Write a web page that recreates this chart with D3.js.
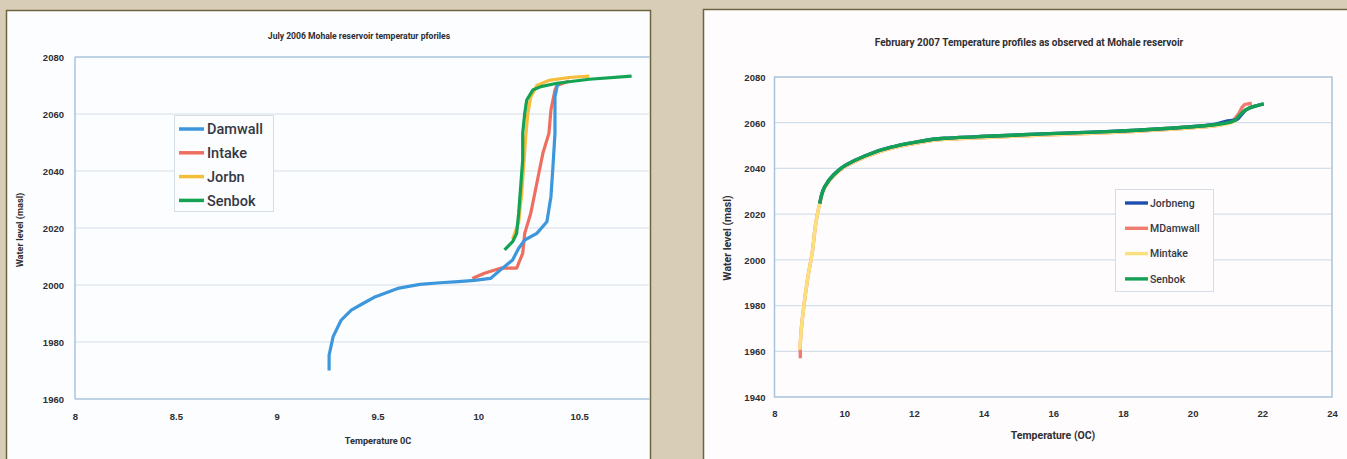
<!DOCTYPE html>
<html><head><meta charset="utf-8">
<script src="https://cdn.jsdelivr.net/npm/d3@7"></script>
<style>
html,body{margin:0;padding:0;background:#d8cdb6;}
svg{display:block;font-family:Roboto,"Liberation Sans",sans-serif;}
</style></head>
<body>
<svg id="c" width="1347" height="459"></svg>
<script>
// ---------- Left chart: July 2006 ----------
const julyTitle = "July 2006 Mohale reservoir temperatur pforiles";
const julyXTicks = [8, 8.5, 9, 9.5, 10, 10.5];
const julyYTicks = [1960, 1980, 2000, 2020, 2040, 2060, 2080];
const julySeries = ["Damwall", "Intake", "Jorbn", "Senbok"];
const julyColors = ["#3d97dc", "#ee6f5f", "#f6bd3c", "#14a353"];

const damwallT = [9.26, 9.26, 9.28, 9.32, 9.37, 9.43, 9.49, 9.60, 9.71, 9.81, 9.90, 9.98, 10.06, 10.11, 10.17, 10.20, 10.23, 10.29, 10.34, 10.36, 10.37, 10.38, 10.38, 10.39, 10.40];
const damwallE = [1970, 1975.4, 1981.9, 1987.7, 1991.2, 1993.6, 1995.9, 1998.8, 2000.2, 2000.8, 2001.2, 2001.6, 2002.3, 2005.3, 2008.8, 2012.9, 2015.8, 2018.1, 2022.2, 2031, 2041.5, 2053.2, 2066, 2069.6, 2071];

const intakeT = [9.97, 10.03, 10.11, 10.19, 10.22, 10.23, 10.26, 10.28, 10.30, 10.32, 10.35, 10.36, 10.38, 10.39, 10.45];
const intakeE = [2002.3, 2004.1, 2005.9, 2005.9, 2011.1, 2018.1, 2025.2, 2032.2, 2039.2, 2046.2, 2053.2, 2061.4, 2068.4, 2070, 2071.6];

const jorbnT = [10.17, 10.20, 10.215, 10.225, 10.235, 10.245, 10.26, 10.29, 10.35, 10.45, 10.55];
const jorbnE = [2016, 2022, 2032, 2042, 2052, 2060, 2066, 2070, 2071.8, 2072.8, 2073.3];

const senbokT = [10.13, 10.17, 10.19, 10.20, 10.21, 10.22, 10.22, 10.23, 10.24, 10.27, 10.31, 10.39, 10.55, 10.76];
const senbokE = [2012.3, 2015.2, 2018.1, 2025.2, 2034.5, 2043.9, 2053.2, 2060.2, 2064.9, 2068.4, 2069.6, 2070.8, 2072.2, 2073.3];

// ---------- Right chart: February 2007 ----------
const febTitle = "February 2007 Temperature profiles as observed at Mohale reservoir";
const febXTicks = [8, 10, 12, 14, 16, 18, 20, 22, 24];
const febYTicks = [1940, 1960, 1980, 2000, 2020, 2040, 2060, 2080];
const febSeries = ["Jorbneng", "MDamwall", "Mintake", "Senbok"];
const febColors = ["#1f4fae", "#f07c70", "#fbe07e", "#14a055"];

const mdamwallT = [8.74, 8.74, 8.76, 8.84, 8.96, 9.08, 9.20, 9.30, 9.44, 9.69, 10.05, 10.54, 11.40, 12.13, 12.87, 13.85, 15.68, 17.51, 19.35, 20.57, 21.10, 21.30, 21.50, 21.70];
const mdamwallE = [1957, 1962, 1968, 1979.5, 1992.6, 2002.9, 2017.4, 2024.7, 2031.6, 2036.6, 2041, 2044.6, 2049, 2051.2, 2052.7, 2053.4, 2054.6, 2055.6, 2057.1, 2058.5, 2060.4, 2063.5, 2068, 2068.4];

const mintakeT = [8.73, 8.76, 8.84, 8.96, 9.08, 9.20, 9.30, 9.44, 9.69, 10.05, 10.54, 11.40, 12.13, 12.87, 13.85, 15.68, 17.51, 19.35, 20.57, 21.18, 21.40, 21.65, 21.90];
const mintakeE = [1960.6, 1968, 1979.5, 1992.6, 2002.9, 2017.4, 2024.7, 2031.6, 2036.6, 2041, 2044.6, 2049, 2051.2, 2052.7, 2053.4, 2054.6, 2055.6, 2057.1, 2058.5, 2060.4, 2063.8, 2066.5, 2067.6];

const jorbnengT = [9.30, 9.44, 9.69, 10.05, 10.54, 11.40, 12.13, 12.87, 13.85, 15.68, 17.51, 19.35, 20.57, 20.95, 21.25, 21.40, 21.61, 22.04];
const jorbnengE = [2024.7, 2032, 2037.1, 2041.5, 2045.1, 2049.5, 2051.7, 2053.2, 2053.9, 2055.1, 2056.1, 2057.6, 2059.1, 2060.6, 2061.3, 2063.5, 2066.3, 2068.2];

const senbokFebT = [9.30, 9.44, 9.69, 10.05, 10.54, 11.40, 12.13, 12.87, 13.85, 15.68, 17.51, 19.35, 20.57, 21.18, 21.36, 21.61, 22.04];
const senbokFebE = [2024.7, 2032, 2037.1, 2041.5, 2045.1, 2049.5, 2051.7, 2053.2, 2053.9, 2055.1, 2056.1, 2057.6, 2059, 2060.8, 2063.4, 2066.3, 2068.2];

// ---------- Drawing ----------
const svg = d3.select("#c");
const gridColor = "#d3dfea";
const axisColor = "#a9c3dc";
const textColor = "#2e2e33";

svg.append("rect").attr("x", 6.5).attr("y", 10.5).attr("width", 644).attr("height", 470)
  .attr("fill", "#fcfdfe").attr("stroke", "#6f6440").attr("stroke-width", 1.5);
svg.append("rect").attr("x", 703.5).attr("y", 9.5).attr("width", 660).attr("height", 470)
  .attr("fill", "#fefcfc").attr("stroke", "#6f6440").attr("stroke-width", 1.5);

svg.append("defs").append("clipPath").attr("id", "clipL")
  .append("rect").attr("x", 7).attr("y", 11).attr("width", 643).attr("height", 460);

function pair(T, E) { return T.map((t, i) => [t, E[i]]); }

// ----- Left chart -----
(function(){
  const x = d3.scaleLinear().domain([8, 11]).range([75, 680]);
  const y = d3.scaleLinear().domain([1960, 2080]).range([399, 57]);
  const g = svg.append("g").attr("clip-path", "url(#clipL)");

  g.append("g").selectAll("line").data(julyYTicks).join("line")
    .attr("x1", x(8)).attr("x2", 650).attr("y1", d => y(d)).attr("y2", d => y(d))
    .attr("stroke", d => (d === 1960 || d === 2080) ? axisColor : gridColor)
    .attr("stroke-width", d => (d === 1960 || d === 2080) ? 1.5 : 1.2);
  g.append("line").attr("x1", x(8)).attr("x2", x(8)).attr("y1", y(2080)).attr("y2", y(1960))
    .attr("stroke", axisColor).attr("stroke-width", 1.5);

  const yAxis = d3.axisLeft(y).tickValues(julyYTicks).tickSize(0).tickPadding(11).tickFormat(d3.format("d"));
  const ya = svg.append("g").attr("transform", `translate(${x(8)},0)`).call(yAxis);
  ya.select(".domain").remove();
  ya.selectAll("text").attr("fill", textColor).attr("font-size", 9.5).attr("font-weight", 700).attr("dy", "0.35em");

  const xAxis = d3.axisBottom(x).tickValues(julyXTicks).tickSize(0).tickPadding(14).tickFormat(d => String(d));
  const xa = svg.append("g").attr("transform", `translate(0,${y(1960)})`).call(xAxis);
  xa.select(".domain").remove();
  xa.selectAll("text").attr("fill", textColor).attr("font-size", 9.5).attr("font-weight", 700);

  const line = d3.line().x(d => x(d[0])).y(d => y(d[1])).curve(d3.curveLinear);
  const data = [pair(damwallT, damwallE), pair(intakeT, intakeE), pair(jorbnT, jorbnE), pair(senbokT, senbokE)];
  const order = [1, 0, 2, 3];
  order.forEach(i => {
    g.append("path").attr("d", line(data[i])).attr("fill", "none")
      .attr("stroke", julyColors[i]).attr("stroke-width", 3.2)
      .attr("stroke-linejoin", "round").attr("stroke-linecap", "butt");
  });

  svg.append("text").attr("x", 359).attr("y", 39).attr("text-anchor", "middle")
    .attr("font-size", 8.6).attr("font-weight", 700).attr("fill", textColor).text(julyTitle);
  svg.append("text").attr("x", 378).attr("y", 444).attr("text-anchor", "middle")
    .attr("font-size", 9.2).attr("font-weight", 700).attr("fill", textColor).text("Temperature 0C");
  svg.append("text").attr("transform", "translate(23,230) rotate(-90)").attr("text-anchor", "middle")
    .attr("font-size", 9.2).attr("font-weight", 700).attr("fill", textColor).text("Water level (masl)");

  const lg = svg.append("g");
  lg.append("rect").attr("x", 174.5).attr("y", 115.5).attr("width", 99).attr("height", 96)
    .attr("fill", "#fcfdfe").attr("stroke", "#d4dce4").attr("stroke-width", 1);
  julySeries.forEach((s, i) => {
    const yy = 129 + i * 23.8;
    lg.append("line").attr("x1", 179).attr("x2", 204).attr("y1", yy).attr("y2", yy)
      .attr("stroke", julyColors[i]).attr("stroke-width", 3.5);
    lg.append("text").attr("x", 207).attr("y", yy).attr("dy", "0.36em")
      .attr("font-size", 14.5).attr("font-weight", 500).attr("fill", "#343844").text(s);
  });
})();

// ----- Right chart -----
(function(){
  const x = d3.scaleLinear().domain([8, 24]).range([774.5, 1332]);
  const y = d3.scaleLinear().domain([1940, 2080]).range([397, 77]);
  const g = svg.append("g");

  g.append("g").selectAll("line").data(febYTicks.filter(d => d !== 1940 && d !== 2080)).join("line")
    .attr("x1", x(8)).attr("x2", x(24)).attr("y1", d => y(d)).attr("y2", d => y(d))
    .attr("stroke", gridColor).attr("stroke-width", 1.2);
  g.append("rect").attr("x", x(8)).attr("y", y(2080)).attr("width", x(24) - x(8)).attr("height", y(1940) - y(2080))
    .attr("fill", "none").attr("stroke", axisColor).attr("stroke-width", 1.5);

  const yAxis = d3.axisLeft(y).tickValues(febYTicks).tickSize(0).tickPadding(9).tickFormat(d3.format("d"));
  const ya = svg.append("g").attr("transform", `translate(${x(8)},0)`).call(yAxis);
  ya.select(".domain").remove();
  ya.selectAll("text").attr("fill", textColor).attr("font-size", 9.5).attr("font-weight", 700).attr("dy", "0.35em");

  const xAxis = d3.axisBottom(x).tickValues(febXTicks).tickSize(0).tickPadding(13).tickFormat(d => String(d));
  const xa = svg.append("g").attr("transform", `translate(0,${y(1940)})`).call(xAxis);
  xa.select(".domain").remove();
  xa.selectAll("text").attr("fill", textColor).attr("font-size", 9.5).attr("font-weight", 700);

  const line = d3.line().x(d => x(d[0])).y(d => y(d[1])).curve(d3.curveMonotoneY);
  const data = [pair(jorbnengT, jorbnengE), pair(mdamwallT, mdamwallE), pair(mintakeT, mintakeE), pair(senbokFebT, senbokFebE)];
  const order = [1, 2, 0, 3];
  order.forEach(i => {
    g.append("path").attr("d", line(data[i])).attr("fill", "none")
      .attr("stroke", febColors[i]).attr("stroke-width", 3.4)
      .attr("stroke-linejoin", "round");
  });

  svg.append("text").attr("x", 1029).attr("y", 46).attr("text-anchor", "middle")
    .attr("font-size", 10).attr("font-weight", 700).attr("fill", textColor).text(febTitle);
  svg.append("text").attr("x", 1053).attr("y", 439).attr("text-anchor", "middle")
    .attr("font-size", 10.5).attr("font-weight", 700).attr("fill", textColor).text("Temperature (OC)");
  svg.append("text").attr("transform", "translate(731,238) rotate(-90)").attr("text-anchor", "middle")
    .attr("font-size", 10.5).attr("font-weight", 700).attr("fill", textColor).text("Water level (masl)");

  const lg = svg.append("g");
  lg.append("rect").attr("x", 1115.5).attr("y", 189.5).attr("width", 98).attr("height", 102)
    .attr("fill", "#fefcfc").attr("stroke", "#d6dde6").attr("stroke-width", 1);
  febSeries.forEach((s, i) => {
    const yy = 203 + i * 25.3;
    lg.append("line").attr("x1", 1125).attr("x2", 1148).attr("y1", yy).attr("y2", yy)
      .attr("stroke", febColors[i]).attr("stroke-width", 3.4);
    lg.append("text").attr("x", 1150).attr("y", yy).attr("dy", "0.36em")
      .attr("font-size", 10.5).attr("font-weight", 500).attr("fill", "#343844").text(s);
  });
})();
</script>
</body></html>
